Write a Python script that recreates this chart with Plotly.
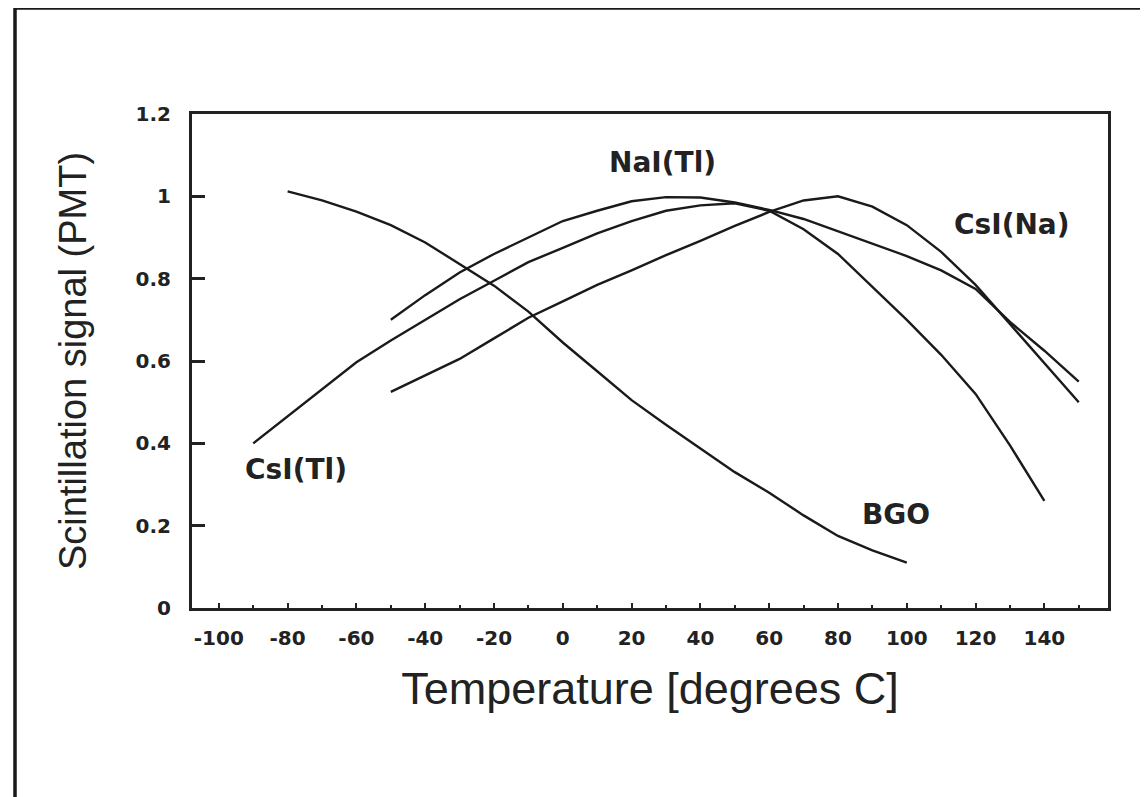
import plotly.graph_objects as go

# ---- data ----
bgo_t = [-80, -70, -60, -50, -40, -30, -20, -10, 0, 10, 20, 30, 40, 50, 60, 70, 80, 90, 100]
bgo_s = [1.012, 0.99, 0.963, 0.93, 0.888, 0.835, 0.783, 0.72, 0.645, 0.575, 0.505, 0.445, 0.387, 0.33, 0.28, 0.225, 0.175, 0.14, 0.11]

csitl_t = [-90, -80, -70, -60, -50, -40, -30, -20, -10, 0, 10, 20, 30, 40, 50, 60, 70, 80, 90, 100, 110, 120, 130, 140]
csitl_s = [0.40, 0.465, 0.53, 0.597, 0.65, 0.70, 0.75, 0.795, 0.84, 0.875, 0.91, 0.94, 0.965, 0.978, 0.983, 0.965, 0.92, 0.86, 0.78, 0.70, 0.615, 0.52, 0.395, 0.26]

nai_t = [-50, -40, -30, -20, -10, 0, 10, 20, 30, 40, 50, 60, 70, 80, 90, 100, 110, 120, 130, 140, 150]
nai_s = [0.70, 0.76, 0.815, 0.86, 0.90, 0.94, 0.965, 0.988, 0.998, 0.997, 0.985, 0.967, 0.945, 0.915, 0.885, 0.855, 0.82, 0.775, 0.695, 0.625, 0.55]

csina_t = [-50, -40, -30, -20, -10, 0, 10, 20, 30, 40, 50, 60, 70, 80, 90, 100, 110, 120, 130, 140, 150]
csina_s = [0.525, 0.565, 0.605, 0.655, 0.705, 0.745, 0.785, 0.82, 0.857, 0.892, 0.928, 0.962, 0.99, 1.0, 0.975, 0.93, 0.865, 0.785, 0.69, 0.595, 0.50]

x_tickvals = [-100, -80, -60, -40, -20, 0, 20, 40, 60, 80, 100, 120, 140]
x_ticktext = ["-100", "-80", "-60", "-40", "-20", "0", "20", "40", "60", "80", "100", "120", "140"]
y_tickvals = [0, 0.2, 0.4, 0.6, 0.8, 1.0, 1.2]
y_ticktext = ["0", "0.2", "0.4", "0.6", "0.8", "1", "1.2"]

labels = ["NaI(Tl)", "CsI(Na)", "CsI(Tl)", "BGO"]
label_x = [29, 130.5, -77.5, 97]
label_y = [1.083, 0.932, 0.336, 0.226]

# ---- figure ----
line_color = "#1a1a1a"
fig = go.Figure()
for t, s, name in [(bgo_t, bgo_s, "BGO"), (csitl_t, csitl_s, "CsI(Tl)"),
                   (nai_t, nai_s, "NaI(Tl)"), (csina_t, csina_s, "CsI(Na)")]:
    fig.add_trace(go.Scatter(x=t, y=s, mode="lines", name=name,
                             line=dict(color=line_color, width=2.4)))

for txt, lx, ly in zip(labels, label_x, label_y):
    fig.add_annotation(x=lx, y=ly, xref="x", yref="y", text=txt, showarrow=False,
                       font=dict(family="DejaVu Sans", size=28, color="#222222", weight="bold"),
                       xanchor="center", yanchor="middle")

# page has an 8px body margin, so figure coords = page coords - 8
OFF = 8
W, H = 1140, 789
L, R, T, B = 192 - OFF, 1108 - OFF, 114 - OFF, 608 - OFF

def px(xp):
    return (xp - OFF - L) / (R - L)

def py(yp):
    return (B - (yp - OFF)) / (B - T)

# outer frame
fig.add_shape(type="rect", xref="paper", yref="paper",
              x0=px(15), x1=px(1170), y0=py(820), y1=py(8),
              line=dict(color="#1a1a1a", width=3.5), fillcolor="rgba(0,0,0,0)", layer="below")

fig.update_layout(
    width=W, height=H,
    margin=dict(l=L, r=W - R, t=T, b=H - B, autoexpand=False),
    paper_bgcolor="white", plot_bgcolor="white",
    showlegend=False,
    xaxis=dict(
        range=[-107.8, 158.5], tickmode="array", tickvals=x_tickvals, ticktext=x_ticktext,
        ticks="inside", ticklen=5, tickwidth=2, tickcolor="#222222",
        minor=dict(dtick=10, tick0=0, ticks="inside", ticklen=3, tickwidth=1.5, tickcolor="#222222"),
        showline=True, linecolor="#222222", linewidth=3, mirror=True,
        showgrid=False, zeroline=False,
        tickfont=dict(family="DejaVu Sans", size=20, color="#222222", weight="bold"),
        ticklabelstandoff=10,
        title=dict(text="Temperature [degrees C]", standoff=24,
                   font=dict(family="Liberation Sans", size=45, color="#222222")),
    ),
    yaxis=dict(
        range=[0, 1.2], tickmode="array", tickvals=y_tickvals, ticktext=y_ticktext,
        ticks="inside", ticklen=13, tickwidth=2.5, tickcolor="#222222",
        showline=True, linecolor="#222222", linewidth=3, mirror=True,
        showgrid=False, zeroline=False,
        tickfont=dict(family="DejaVu Sans", size=20, color="#222222", weight="bold"),
        ticklabelstandoff=14,
        title=dict(text="Scintillation signal (PMT)", standoff=38,
                   font=dict(family="Liberation Sans", size=38, color="#222222")),
    ),
)

fig.write_html("out.html")
